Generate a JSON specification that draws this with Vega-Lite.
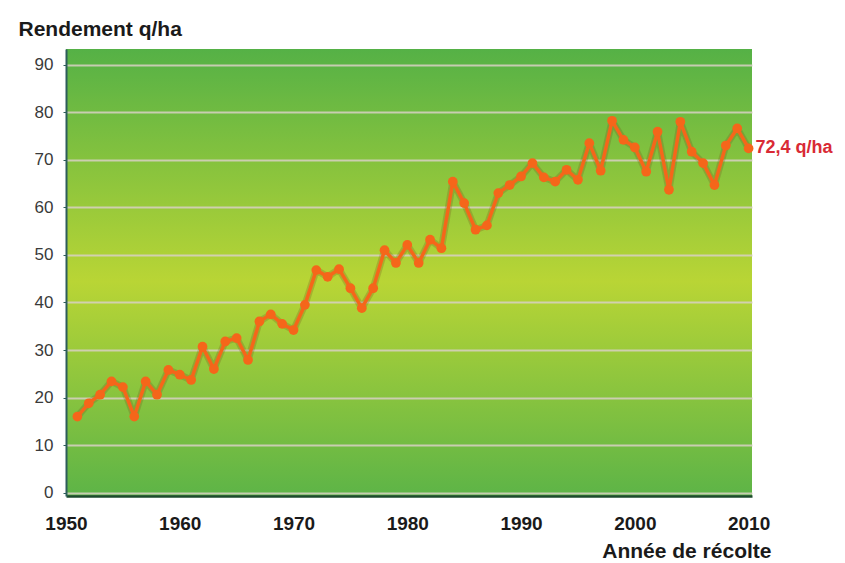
{
  "$schema": "https://vega.github.io/schema/vega-lite/v6.json",
  "width": 686,
  "height": 447,
  "autosize": {"type": "none"},
  "padding": {"left": 66, "top": 49, "right": 93, "bottom": 67},
  "background": "white",
  "config": {
    "view": {
      "stroke": null,
      "fill": {
        "gradient": "linear",
        "x1": 0, "y1": 0, "x2": 0, "y2": 1,
        "stops": [
          {"offset": 0, "color": "#55b146"},
          {"offset": 0.52, "color": "#b9d535"},
          {"offset": 1, "color": "#5db447"}
        ]
      }
    },
    "font": "Liberation Sans"
  },
  "data": {
    "values": [
      {"year": 1951, "value": 16.0}, {"year": 1952, "value": 18.8}, {"year": 1953, "value": 20.6},
      {"year": 1954, "value": 23.4}, {"year": 1955, "value": 22.2}, {"year": 1956, "value": 16.0},
      {"year": 1957, "value": 23.4}, {"year": 1958, "value": 20.6}, {"year": 1959, "value": 25.8},
      {"year": 1960, "value": 24.8}, {"year": 1961, "value": 23.7}, {"year": 1962, "value": 30.7},
      {"year": 1963, "value": 26.0}, {"year": 1964, "value": 31.8}, {"year": 1965, "value": 32.5},
      {"year": 1966, "value": 27.9}, {"year": 1967, "value": 36.0}, {"year": 1968, "value": 37.5},
      {"year": 1969, "value": 35.5}, {"year": 1970, "value": 34.2}, {"year": 1971, "value": 39.5},
      {"year": 1972, "value": 46.8}, {"year": 1973, "value": 45.4}, {"year": 1974, "value": 47.0},
      {"year": 1975, "value": 43.0}, {"year": 1976, "value": 38.8}, {"year": 1977, "value": 43.0},
      {"year": 1978, "value": 51.0}, {"year": 1979, "value": 48.3}, {"year": 1980, "value": 52.1},
      {"year": 1981, "value": 48.3}, {"year": 1982, "value": 53.2}, {"year": 1983, "value": 51.4},
      {"year": 1984, "value": 65.4}, {"year": 1985, "value": 60.9}, {"year": 1986, "value": 55.3},
      {"year": 1987, "value": 56.2}, {"year": 1988, "value": 63.0}, {"year": 1989, "value": 64.7},
      {"year": 1990, "value": 66.5}, {"year": 1991, "value": 69.3}, {"year": 1992, "value": 66.3},
      {"year": 1993, "value": 65.4}, {"year": 1994, "value": 67.9}, {"year": 1995, "value": 65.8},
      {"year": 1996, "value": 73.5}, {"year": 1997, "value": 67.7}, {"year": 1998, "value": 78.2},
      {"year": 1999, "value": 74.2}, {"year": 2000, "value": 72.6}, {"year": 2001, "value": 67.5},
      {"year": 2002, "value": 75.9}, {"year": 2003, "value": 63.7}, {"year": 2004, "value": 78.0},
      {"year": 2005, "value": 71.7}, {"year": 2006, "value": 69.3}, {"year": 2007, "value": 64.7},
      {"year": 2008, "value": 73.0}, {"year": 2009, "value": 76.6}, {"year": 2010, "value": 72.4}
    ]
  },
  "encoding": {
    "x": {
      "field": "year", "type": "quantitative",
      "scale": {"domain": [1950, 2010.3], "nice": false, "zero": false},
      "axis": {
        "values": [1950, 1960, 1970, 1980, 1990, 2000, 2010],
        "format": "d",
        "grid": false,
        "ticks": false,
        "domainColor": "#1c4a2c",
        "domainWidth": 2.5,
        "labelFont": "Liberation Sans",
        "labelFontSize": 19,
        "labelFontWeight": "bold",
        "labelColor": "#1a1a1a",
        "labelPadding": 18,
        "labelFlush": false,
        "title": "Année de récolte",
        "titleFont": "Liberation Sans",
        "titleFontSize": 21,
        "titleFontWeight": "bold",
        "titleColor": "#1a1a1a",
        "titleAlign": "right",
        "titleAnchor": "end",
        "titleBaseline": "alphabetic",
        "titleX": 705,
        "titleY": 61
      }
    },
    "y": {
      "field": "value", "type": "quantitative",
      "scale": {"domain": [-0.7, 93.3], "nice": false, "zero": false},
      "axis": {
        "values": [0, 10, 20, 30, 40, 50, 60, 70, 80, 90],
        "grid": true,
        "gridColor": "#d8d0c4",
        "gridWidth": 2,
        "gridOpacity": 0.85,
        "ticks": true,
        "tickSize": 3,
        "tickColor": "#2d5d5a",
        "domainColor": "#2d5d5a",
        "domainWidth": 2,
        "labelFont": "Liberation Sans",
        "labelFontSize": 17,
        "labelColor": "#3a3a3a",
        "labelPadding": 10,
        "labelFlush": false,
        "title": "Rendement q/ha",
        "titleFont": "Liberation Sans",
        "titleFontSize": 21,
        "titleFontWeight": "bold",
        "titleColor": "#1a1a1a",
        "titleAngle": 0,
        "titleAlign": "left",
        "titleBaseline": "alphabetic",
        "titleX": -48,
        "titleY": -14
      }
    }
  },
  "layer": [
    {
      "mark": {"type": "line", "color": "#7a4a1a", "strokeWidth": 7, "opacity": 0.25, "strokeJoin": "round"}
    },
    {
      "mark": {"type": "line", "color": "#f5661a", "strokeWidth": 3.5, "strokeJoin": "round"}
    },
    {
      "mark": {"type": "point", "filled": true, "color": "#f5661a", "size": 95, "opacity": 1}
    },
    {
      "data": {"values": [{"year": 2010, "value": 72.4, "label": "72,4 q/ha"}]},
      "mark": {"type": "text", "align": "left", "baseline": "middle", "dx": 7, "color": "#d92a35", "fontSize": 18, "fontWeight": "bold", "font": "Liberation Sans"},
      "encoding": {"text": {"field": "label"}}
    }
  ]
}
